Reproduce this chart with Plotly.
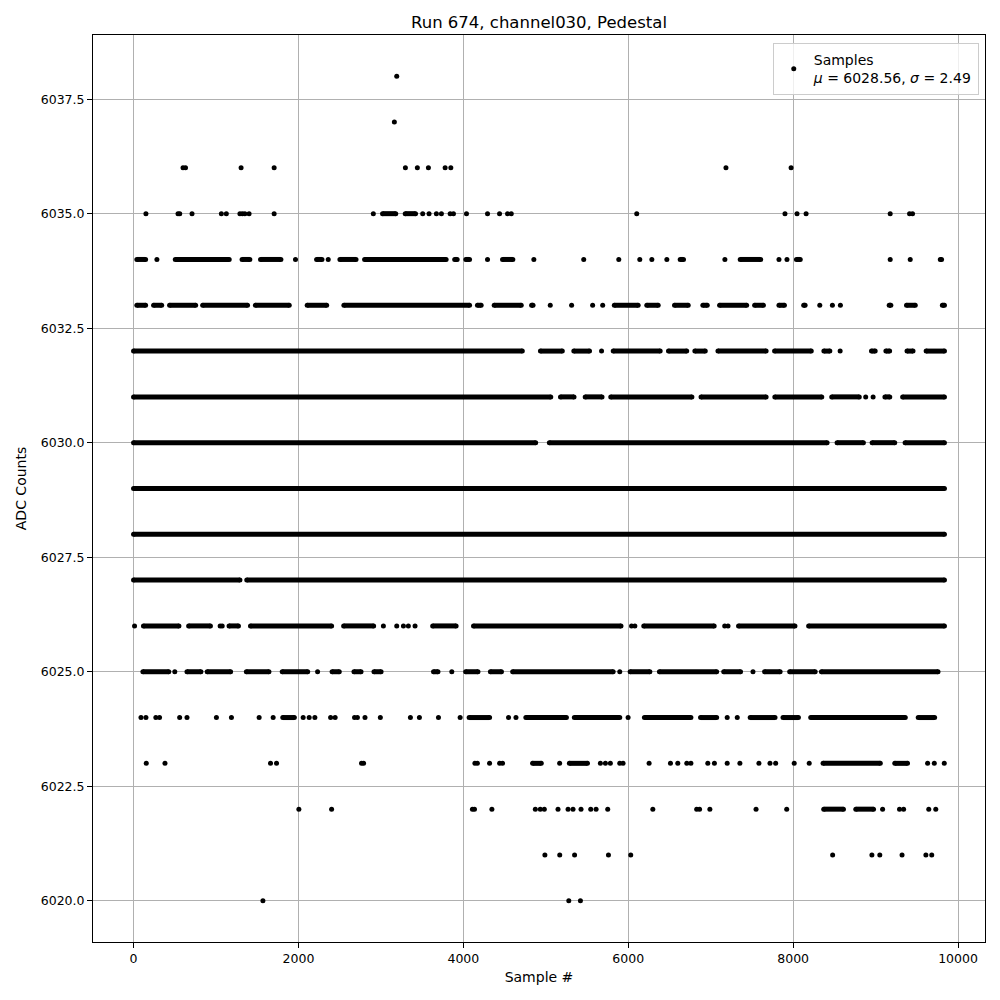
import plotly.graph_objects as go

# ---- Data ----
# For every ADC level: sample numbers where a sample with that value is seen.
# A plain number is a single sample; a [start, end] pair is a stretch of
# samples that sit at that level so densely that their dots merge.
adc_6038 = [3192]
adc_6037 = [3163]
adc_6036 = [600, 630, 1304, 1705, 3297, 3442, 3576, 3779, 3848, 7185, 7975]
adc_6035 = [150, 539, 560, 709, 1065, 1125, 1290, 1320, 1350, 1401, 1705, 2908,
            [3020, 3180], [3295, 3420], 3507, 3584, 3673, 3734, 3840, 3880, 4038,
            4293, 4439, 4536, 4581, 6103, 7901, 8047, 8157, 9177, 9412, 9448]
adc_6034 = [[40, 146], 283, [506, 1160], [1316, 1410], [1540, 1787], 1964,
            [2220, 2285], 2361, [2503, 2698], [2802, 3791], [3895, 3925],
            [4030, 4075], 4293, [4475, 4600], 4855, 5460, 5885, 6140, 6286, 6468,
            [6630, 6670], 7172, [7358, 7606], 7828, 7925, [8040, 8086], 9177, 9420,
            [9785, 9800]]
adc_6033 = [[40, 146], [243, 341], [437, 753], [838, 1382], [1478, 1888],
            [2106, 2342], [2551, 4075], [4171, 4216], [4374, 4702], [4828, 4845],
            5054, 5313, 5568, 5690, [5831, 6120], [6225, 6363], [6561, 6727],
            [6905, 6958], [7108, 7436], [7533, 7639], [7828, 7894], [8128, 8145],
            8323, 8476, 8573, [9165, 9185], [9375, 9481], [9810, 9835]]
adc_6032 = [[0, 4715], [4935, 5200], [5340, 5530], 5676, [5818, 6387], [6488, 6709],
            [6808, 6934], [7088, 7672], [7775, 8220], [8373, 8445], 8570,
            [8950, 8995], [9125, 9170], [9381, 9454], [9613, 9835]]
adc_6031 = [[0, 5060], [5178, 5342], [5478, 5682], [5788, 6772], [6883, 7672],
            [7778, 8347], [8468, 8802], 8880, 8970, [9113, 9172], [9328, 9835]]
adc_6030 = [[0, 4877], [5043, 8412], [8533, 8852], [8958, 9232], [9358, 9835]]
adc_6029 = [[0, 9835]]
adc_6028 = [[0, 9835]]
adc_6027 = [[0, 1290], [1373, 9835]]
adc_6026 = [12, [120, 550], [668, 932], 1050, 1075, [1158, 1272], [1418, 2402],
            [2548, 2912], 3030, 3192, 3273, 3333, 3414, [3628, 3912], [4123, 5912],
            6040, 6080, [6188, 7042], 7170, 7210, [7338, 8022], [8188, 9835]]
adc_6025 = [[113, 427], 500, [648, 817], [893, 1177], [1368, 1642], [1803, 2112],
            2232, [2408, 2495], [2673, 2759], [2916, 3002], [3638, 3692], 3860,
            [4028, 4177], [4328, 4462], [4598, 5817], 5897, [6023, 6262],
            [6378, 7072], [7158, 7362], 7513, [7653, 7842], [7958, 8267],
            [8343, 9757]]
adc_6024 = [90, 150, 270, 315, 559, 648, 1005, 1187, 1523, 1693, [1810, 1950],
            2057, 2130, 2199, 2390, 2445, 2680, 2715, 2807, 2993, 3358, 3467, 3698,
            3961, [4070, 4318], 4548, 4638, [4758, 5250], [5346, 5897], 5998,
            [6196, 6760], [6877, 7072], 7200, 7322, [7479, 7780], [7877, 8064],
            [8213, 9360], [9517, 9716]]
adc_6023 = [154, 381, 1661, 1734, 2765, 2790, 4140, 4170, 4318, 4440, 4475,
            [4840, 4945], 5168, [5286, 5505], 5662, 5723, 5783, 5897, 5937, 6253,
            6512, 6601, 6710, 6760, 6965, 7045, 7200, 7354, 7585, 7719, 7788, 8013,
            8195, [8363, 9057], [9233, 9387], 9631, 9712, 9833]
adc_6022 = [2005, 2402, 4110, 4135, 4346, 4873, 4933, 4982, 5148, 5270, 5330, 5427,
            5545, 5610, 5751, 6298, 6830, 6865, 6990, 7550, 7922, [8371, 8610],
            [8760, 8975], 9085, 9290, 9340, 9645, 9730]
adc_6021 = [4989, 5169, 5349, 5760, 6030, 8479, 8955, 9051, 9321, 9610, 9681]
adc_6020 = [1569, 5279, 5420]

levels = [6038, 6037, 6036, 6035, 6034, 6033, 6032, 6031, 6030,
          6029, 6028, 6027, 6026, 6025, 6024, 6023, 6022, 6021, 6020]
level_samples = [adc_6038, adc_6037, adc_6036, adc_6035, adc_6034, adc_6033,
                 adc_6032, adc_6031, adc_6030, adc_6029, adc_6028, adc_6027,
                 adc_6026, adc_6025, adc_6024, adc_6023, adc_6022, adc_6021,
                 adc_6020]

x_ticks = [0, 2000, 4000, 6000, 8000, 10000]
y_ticks = [6020.0, 6022.5, 6025.0, 6027.5, 6030.0, 6032.5, 6035.0, 6037.5]
y_tick_labels = ["6020.0", "6022.5", "6025.0", "6027.5", "6030.0", "6032.5",
                 "6035.0", "6037.5"]

mean_val = 6028.56
sigma_val = 2.49
title_text = "Run 674, channel030, Pedestal"

# ---- Build marks ----
run_x, run_y, pt_x, pt_y = [], [], [], []
for lvl, entries in zip(levels, level_samples):
    for e in entries:
        if isinstance(e, list):
            run_x += [e[0], e[1], None]
            run_y += [lvl, lvl, None]
            pt_x += [e[0], e[1]]
            pt_y += [lvl, lvl]
        else:
            pt_x.append(e)
            pt_y.append(lvl)

fig = go.Figure()
fig.add_trace(go.Scatter(x=run_x, y=run_y, mode="lines",
                         line=dict(color="black", width=5),
                         showlegend=False, hoverinfo="skip", connectgaps=False))
fig.add_trace(go.Scatter(x=pt_x, y=pt_y, mode="markers",
                         marker=dict(color="black", size=5),
                         name=f"Samples<br><i>μ</i> = {mean_val:.2f}, <i>σ</i> = {sigma_val:.2f}"))

axis_common = dict(showline=True, mirror=True, linecolor="black", linewidth=1,
                   ticks="outside", ticklen=5, tickcolor="black", tickwidth=1,
                   showgrid=True, gridcolor="#b0b0b0", gridwidth=1,
                   zeroline=False, automargin=False,
                   tickfont=dict(size=12.5, color="black"))

fig.update_layout(
    width=1000, height=1000,
    paper_bgcolor="white", plot_bgcolor="white",
    font=dict(family="DejaVu Sans", size=12, color="black"),
    margin=dict(l=85, r=23, t=27, b=66),
    title=dict(text=title_text, x=0.531, xanchor="center", xref="container",
               y=0.986, yanchor="middle", yref="container",
               font=dict(size=16.5, color="black"), automargin=False),
    xaxis=dict(range=[-492, 10327], tickvals=x_ticks,
               ticktext=[str(v) for v in x_ticks],
               title=dict(text="Sample #", standoff=7, font=dict(size=14)),
               **axis_common),
    yaxis=dict(range=[6019.1, 6038.9], tickvals=y_ticks, ticktext=y_tick_labels,
               title=dict(text="ADC Counts", standoff=10, font=dict(size=14)),
               **axis_common),
    legend=dict(x=0.993, y=0.991, xanchor="right", yanchor="top",
                bgcolor="rgba(255,255,255,0.8)", bordercolor="#cccccc",
                borderwidth=1, font=dict(size=14), valign="middle"),
    showlegend=True,
)

fig.write_html("out.html")
